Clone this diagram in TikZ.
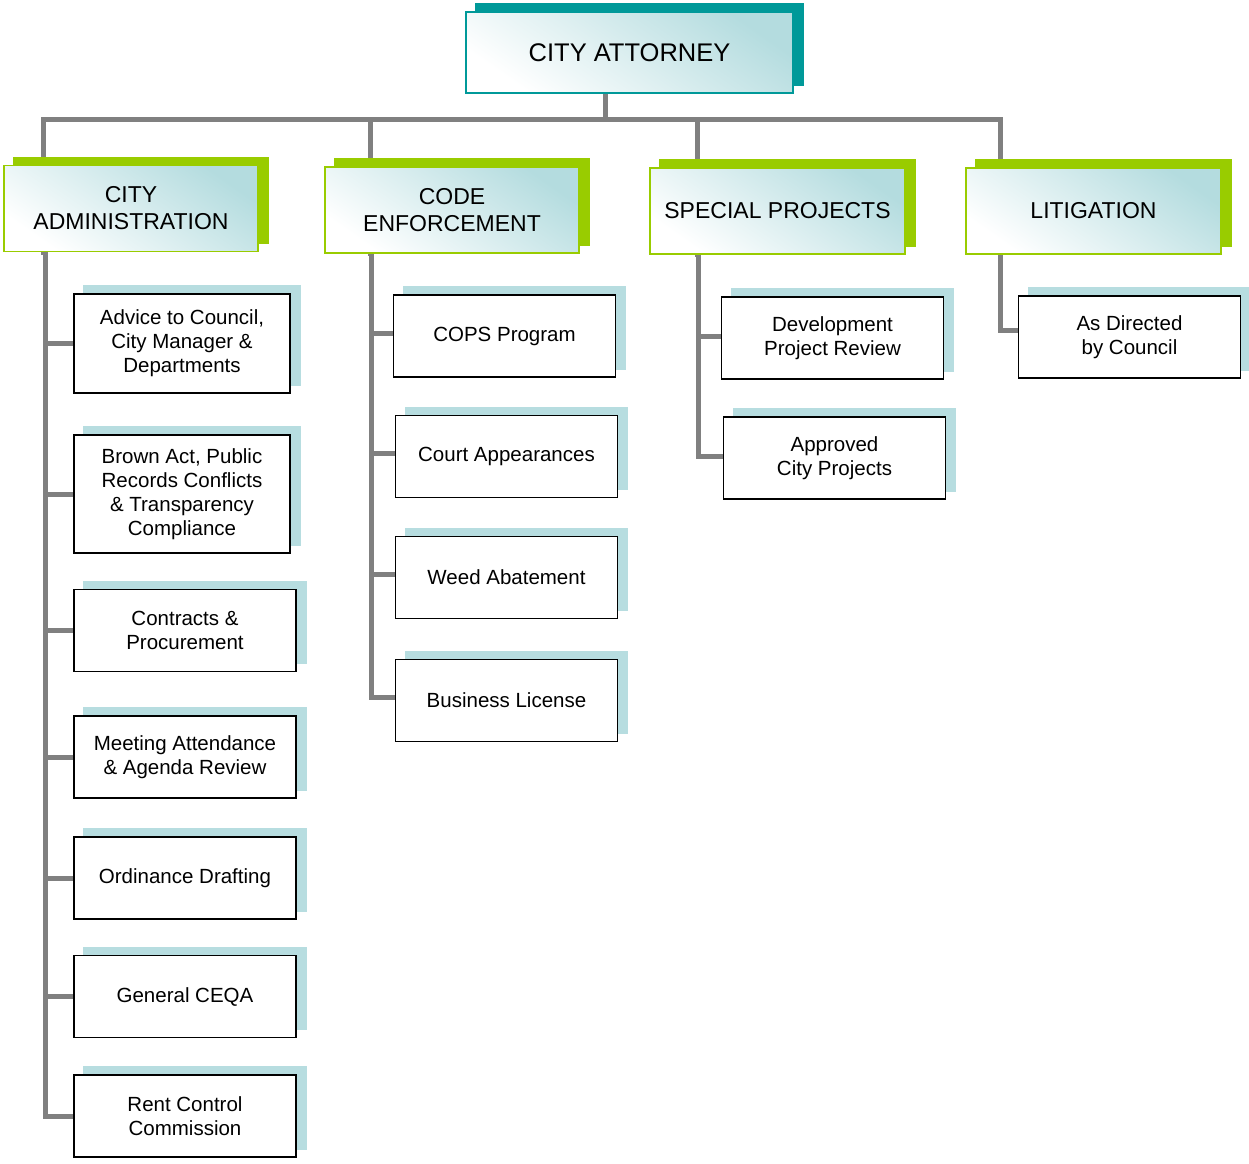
\documentclass[tikz,border=0pt]{standalone}
\usepackage{fontspec}
\setmainfont{Liberation Sans}
\usetikzlibrary{backgrounds}

\definecolor{attteal}{HTML}{009999}
\definecolor{hdrgreen}{HTML}{99CC00}
\definecolor{leafshade}{HTML}{B7DDE0}
\definecolor{gradteal}{HTML}{B4DCDF}
\definecolor{linegray}{HTML}{808080}

\tikzset{
  topbox/.style={draw=attteal, line width=1.6pt, top color=gradteal, bottom color=white, shading angle=-35,
    minimum width=327pt, minimum height=81pt, inner sep=0pt, align=center, font=\fontsize{25.5}{29}\selectfont},
  hdrbox/.style={draw=hdrgreen, line width=1.6pt, top color=gradteal, bottom color=white, shading angle=-35,
    minimum width=254pt, minimum height=86pt, inner sep=0pt, align=center, font=\fontsize{23}{27}\selectfont},
  leafbox/.style={draw=black, line width=1.5pt, fill=white,
    minimum width=222pt, minimum height=82pt, inner sep=0pt, align=center, font=\fontsize{20.5}{24}\selectfont},
  conn/.style={draw=linegray, line width=5pt, line cap=rect}
}

\begin{document}
\begin{tikzpicture}[x=1pt, y=-1pt]
  \useasboundingbox (0,0) rectangle (1249,1163);

  % top and headers
  \node[topbox] (att) at (629.5,52.5) {CITY ATTORNEY};
  \node[hdrbox] (adm) at (131,208.5) {CITY\\ADMINISTRATION};
  \node[hdrbox] (code) at (452,210) {CODE\\ENFORCEMENT};
  \node[hdrbox, minimum width=255pt] (spec) at (777.5,211) {SPECIAL PROJECTS};
  \node[hdrbox, minimum width=255pt] (lit) at (1093.5,211) {LITIGATION};
  \coordinate (bus) at (0,119);

  % city administration
  \node[leafbox, minimum width=216pt, minimum height=99pt] (a1) at (182,343.5) {Advice to Council,\\City Manager \&\\Departments};
  \node[leafbox, minimum width=216pt, minimum height=118pt] (a2) at (182,494) {Brown Act, Public\\Records Conflicts\\\& Transparency\\Compliance};
  \node[leafbox] (a3) at (185,630.5) {Contracts \&\\Procurement};
  \node[leafbox] (a4) at (185,757) {Meeting Attendance\\\& Agenda Review};
  \node[leafbox] (a5) at (185,878) {Ordinance Drafting};
  \node[leafbox] (a6) at (185,996.5) {General CEQA};
  \node[leafbox] (a7) at (185,1116) {Rent Control\\Commission};

  % code enforcement
  \node[leafbox] (c1) at (504.5,336) {COPS Program};
  \node[leafbox] (c2) at (506.5,456.5) {Court Appearances};
  \node[leafbox] (c3) at (506.5,577.5) {Weed Abatement};
  \node[leafbox] (c4) at (506.5,700.5) {Business License};

  % special projects
  \node[leafbox] (s1) at (832.5,338) {Development\\Project Review};
  \node[leafbox] (s2) at (834.5,458) {Approved\\City Projects};

  % litigation
  \node[leafbox] (l1) at (1129.5,337) {As Directed\\by Council};

  \begin{scope}[on background layer]
    \draw[conn] ([xshift=-24pt]att.south) -- ([xshift=-24pt]att.south |- bus);
    \draw[conn] ([xshift=40pt]adm.north west |- bus) -- ([xshift=35pt]lit.north west |- bus);
    \foreach \h/\dx in {adm/40, code/46, spec/48, lit/35}
      \draw[conn] ([xshift=\dx pt]\h.north west |- bus) -- ([xshift=\dx pt]\h.south west);
    \foreach \l in {a1,a2,a3,a4,a5,a6,a7}
      \draw[conn] ([xshift=42pt]adm.south west) |- (\l.west);
    \foreach \l in {c1,c2,c3,c4}
      \draw[conn] ([xshift=47pt]code.south west) |- ([yshift=3pt]\l.west);
    \foreach \l in {s1,s2}
      \draw[conn] ([xshift=49pt]spec.south west) |- ([yshift=2pt]\l.west);
    \draw[conn] ([xshift=35pt]lit.south west) |- ([yshift=7pt]l1.west);

    % shadows
    \foreach \n/\c in {att/attteal, adm/hdrgreen, code/hdrgreen, spec/hdrgreen, lit/hdrgreen,
        a1/leafshade, a2/leafshade, a3/leafshade, a4/leafshade, a5/leafshade, a6/leafshade, a7/leafshade,
        c1/leafshade, c2/leafshade, c3/leafshade, c4/leafshade, s1/leafshade, s2/leafshade, l1/leafshade}
      \fill[\c] ([shift={(10,-8)}]\n.south west) rectangle ([shift={(10,-8)}]\n.north east);
  \end{scope}
\end{tikzpicture}
\end{document}
